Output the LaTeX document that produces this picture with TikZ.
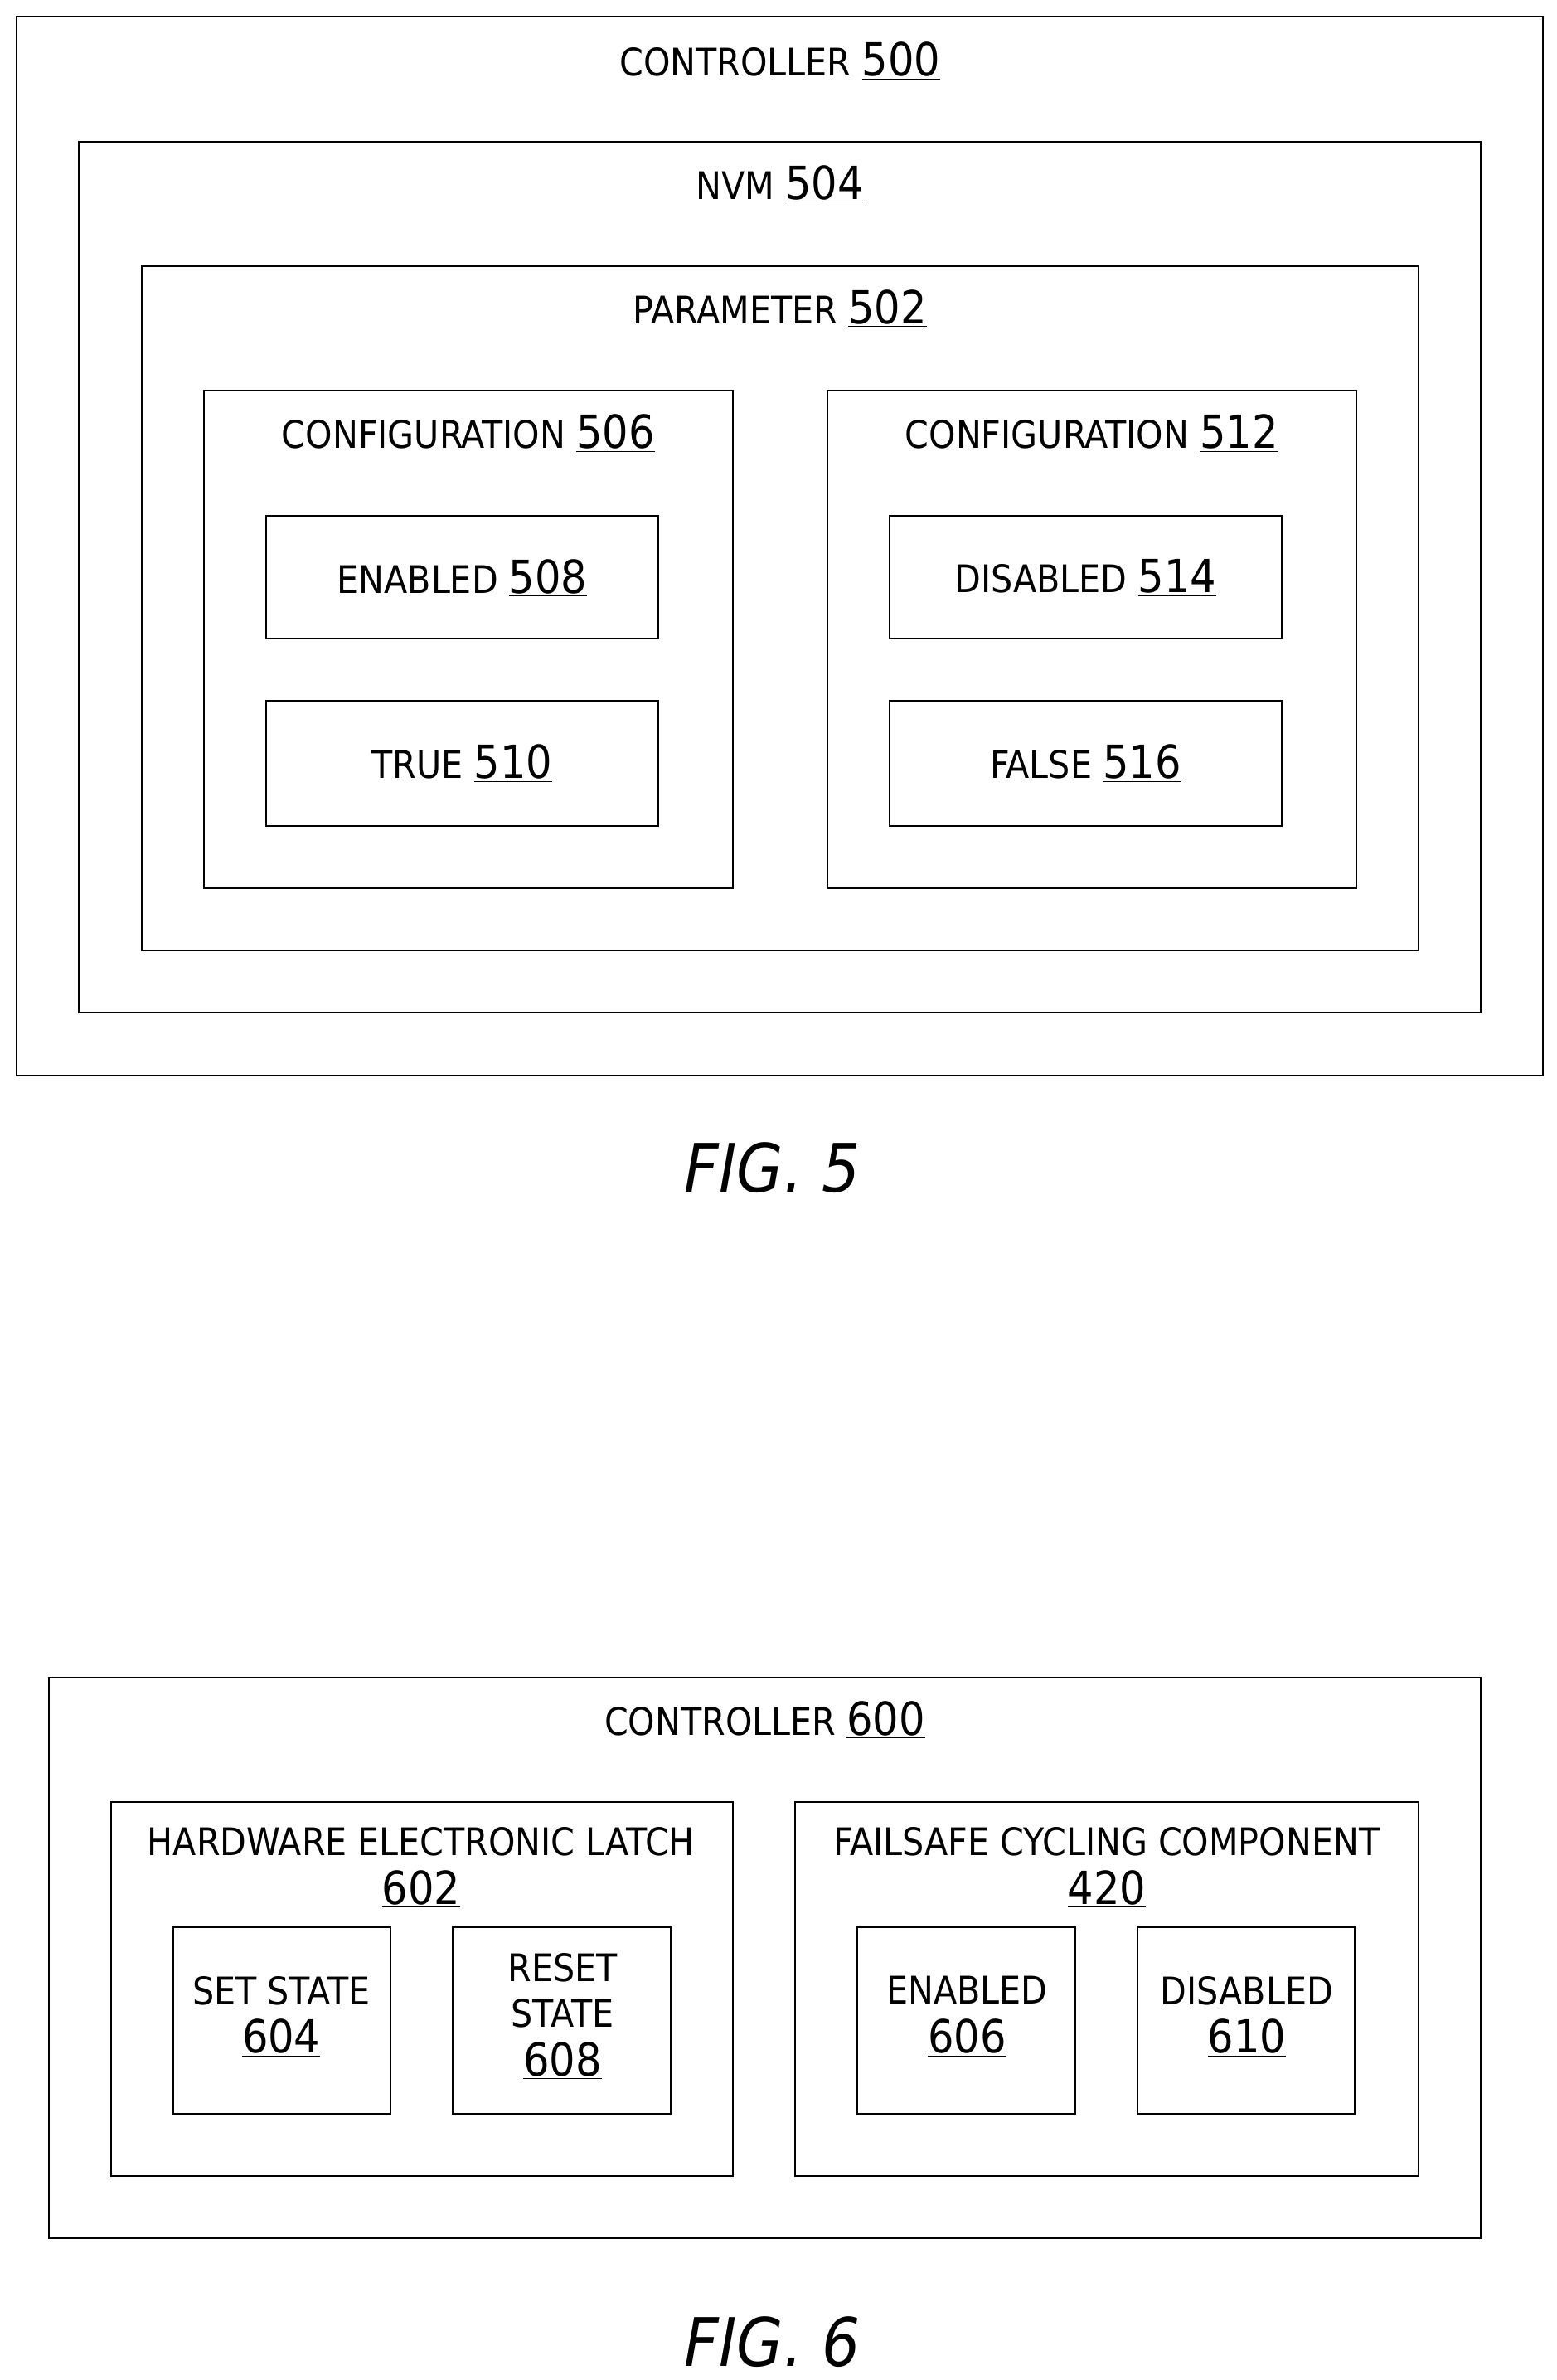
\documentclass[tikz,border=0pt]{standalone}
\usepackage{fontspec}
\setmainfont{DejaVu Sans Condensed}
\begin{document}
\begin{tikzpicture}[x=1pt,y=-1pt,
 box/.style={draw,line width=1.1pt},
 lab/.style={font=\fontsize{25}{30}\selectfont,align=center,inner sep=0},
 figcap/.style={font=\fontsize{44}{50}\selectfont\itshape,inner sep=0}]
\newcommand{\num}[1]{{\fontsize{30}{34}\selectfont\underline{#1}}}
\useasboundingbox (0,0) rectangle (1024,1565);
\draw[box] (11,11) rectangle (1015,707);
\node[lab] (c500) at (513,40) {CONTROLLER \num{500}};
\draw[box] (52,93) rectangle (974,666);
\node[lab] (n504) at (513,121) {NVM \num{504}};
\draw[box] (93,175) rectangle (933,625);
\node[lab] (p502) at (513,203) {PARAMETER \num{502}};
\draw[box] (134,257) rectangle (482,584);
\node[lab] (c506) at (308,285) {CONFIGURATION \num{506}};
\draw[box] (544,257) rectangle (892,584);
\node[lab] (c512) at (718,285) {CONFIGURATION \num{512}};
\draw[box] (175,339) rectangle (433,420);
\node[lab] (e508) at (304,380) {ENABLED \num{508}};
\draw[box] (175,461) rectangle (433,543);
\node[lab] (t510) at (304,502) {TRUE \num{510}};
\draw[box] (585,339) rectangle (843,420);
\node[lab] (d514) at (714,380) {DISABLED \num{514}};
\draw[box] (585,461) rectangle (843,543);
\node[lab] (f516) at (714,502) {FALSE \num{516}};
\node[figcap] (fig5) at (508,768) {FIG. 5};

\draw[box] (32,1103) rectangle (974,1472);
\node[lab] (c600) at (503,1131) {CONTROLLER \num{600}};
\draw[box] (73,1185) rectangle (482,1431);
\node[lab] (l602) at (277,1228) {HARDWARE ELECTRONIC LATCH\\[2pt]\num{602}};
\draw[box] (523,1185) rectangle (933,1431);
\node[lab] (f420) at (728,1228) {FAILSAFE CYCLING COMPONENT\\[2pt]\num{420}};
\draw[box] (114,1267) rectangle (257,1390);
\node[lab] (s604) at (185,1326) {SET STATE\\[2pt]\num{604}};
\draw[box] (298,1267) rectangle (441,1390);
\node[lab] (r608) at (370,1326) {RESET\\[0pt]STATE\\[2pt]\num{608}};
\draw[box] (564,1267) rectangle (707,1390);
\node[lab] (e606) at (636,1326) {ENABLED\\[2pt]\num{606}};
\draw[box] (748,1267) rectangle (891,1390);
\node[lab] (d610) at (820,1326) {DISABLED\\[2pt]\num{610}};
\node[figcap] (fig6) at (508,1540) {FIG. 6};
\end{tikzpicture}
\end{document}
